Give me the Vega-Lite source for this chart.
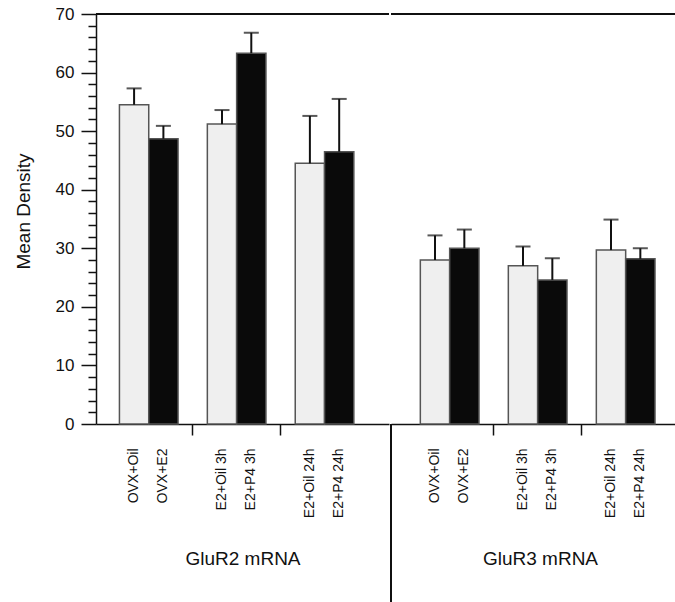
{
  "$schema": "https://vega.github.io/schema/vega-lite/v6.json",
  "padding": {"left": 14, "top": 5, "right": 0, "bottom": 0},
  "autosize": {"type": "pad"},
  "spacing": 0,
  "config": {
    "font": "Liberation Sans",
    "view": {"stroke": null},
    "axis": {"domainColor": "#111", "tickColor": "#111", "labelColor": "#111", "titleColor": "#111", "titleFontWeight": "normal", "domainWidth": 1.5, "tickWidth": 1.5, "grid": false, "labelFont": "Liberation Sans", "titleFont": "Liberation Sans"}
  },
  "data": {"values": [
    {"gene": "GluR2", "cond": "OVX+Oil", "treatment": "Oil", "mean": 54.5, "upper": 57.3},
    {"gene": "GluR2", "cond": "OVX+E2", "treatment": "Hormone", "mean": 48.7, "upper": 50.9},
    {"gene": "GluR2", "cond": "E2+Oil 3h", "treatment": "Oil", "mean": 51.2, "upper": 53.6},
    {"gene": "GluR2", "cond": "E2+P4 3h", "treatment": "Hormone", "mean": 63.3, "upper": 66.8},
    {"gene": "GluR2", "cond": "E2+Oil 24h", "treatment": "Oil", "mean": 44.5, "upper": 52.6},
    {"gene": "GluR2", "cond": "E2+P4 24h", "treatment": "Hormone", "mean": 46.5, "upper": 55.5},
    {"gene": "GluR3", "cond": "OVX+Oil", "treatment": "Oil", "mean": 28.0, "upper": 32.2},
    {"gene": "GluR3", "cond": "OVX+E2", "treatment": "Hormone", "mean": 30.0, "upper": 33.2},
    {"gene": "GluR3", "cond": "E2+Oil 3h", "treatment": "Oil", "mean": 27.0, "upper": 30.3},
    {"gene": "GluR3", "cond": "E2+P4 3h", "treatment": "Hormone", "mean": 24.6, "upper": 28.3},
    {"gene": "GluR3", "cond": "E2+Oil 24h", "treatment": "Oil", "mean": 29.7, "upper": 34.9},
    {"gene": "GluR3", "cond": "E2+P4 24h", "treatment": "Hormone", "mean": 28.2, "upper": 30.0}
  ]},
  "hconcat": [
    {
      "width": 293,
      "height": 410,
      "transform": [{"filter": "datum.gene === 'GluR2'"}],
      "layer": [
        {
          "mark": {"type": "bar", "stroke": "#555", "strokeWidth": 1.5},
          "encoding": {
            "x": {"field": "cond", "type": "nominal",
              "scale": {"domain": ["OVX+Oil", "OVX+E2", "gap1", "E2+Oil 3h", "E2+P4 3h", "gap2", "E2+Oil 24h", "E2+P4 24h"], "paddingInner": 0, "paddingOuter": 1.03, "align": 0.4},
              "axis": {"title": "GluR2 mRNA", "labelAngle": -90, "labelFontSize": 14, "labelPadding": 13, "tickSize": 11,
                "tickColor": {"condition": {"test": "indexof(datum.value,'gap') === 0", "value": "#111"}, "value": "transparent"},
                "labelExpr": "indexof(datum.value,'gap') === 0 ? '' : datum.value",
                "titleFontSize": 19, "titlePadding": 32, "labelOverlap": false}},
            "y": {"field": "mean", "type": "quantitative",
              "scale": {"domain": [0, 70], "nice": false, "zero": false},
              "axis": {"title": "Mean Density", "titleY": 197, "tickCount": 40, "values": [0,2,4,6,8,10,12,14,16,18,20,22,24,26,28,30,32,34,36,38,40,42,44,46,48,50,52,54,56,58,60,62,64,66,68,70],
                "tickSize": {"condition": {"test": "datum.value % 10 === 0", "value": 15}, "value": 8},
                "labelExpr": "datum.value % 10 === 0 ? datum.label : ''",
                "labelFontSize": 17, "labelPadding": 7, "titleFontSize": 19, "titlePadding": 22, "labelOverlap": false}},
            "color": {"field": "treatment", "type": "nominal", "scale": {"domain": ["Oil", "Hormone"], "range": ["#efefef", "#0a0a0a"]}, "legend": null}
          }
        },
        {
          "mark": {"type": "rule", "strokeWidth": 2, "color": "#111"},
          "encoding": {"x": {"field": "cond", "type": "nominal"}, "y": {"field": "mean", "type": "quantitative"}, "y2": {"field": "upper"}}
        },
        {
          "mark": {"type": "tick", "orient": "horizontal", "size": 15, "thickness": 2, "color": "#111"},
          "encoding": {"x": {"field": "cond", "type": "nominal"}, "y": {"field": "upper", "type": "quantitative"}}
        },
        {
          "mark": {"type": "rule", "strokeWidth": 1.5, "color": "#111"},
          "encoding": {"y": {"datum": 70}}
        }
      ]
    },
    {
      "width": 287,
      "height": 410,
      "transform": [{"filter": "datum.gene === 'GluR3'"}],
      "layer": [
        {
          "mark": {"type": "bar", "stroke": "#555", "strokeWidth": 1.5},
          "encoding": {
            "x": {"field": "cond", "type": "nominal",
              "scale": {"domain": ["div", "OVX+Oil", "OVX+E2", "gap1", "E2+Oil 3h", "E2+P4 3h", "gap2", "E2+Oil 24h", "E2+P4 24h"], "paddingInner": 0, "paddingOuter": 0.392, "align": 0},
              "axis": {"title": "GluR3 mRNA", "titleX": 149, "labelAngle": -90, "labelFontSize": 14, "labelPadding": 13, "tickSize": 11,
                "tickColor": {"condition": {"test": "indexof(datum.value,'gap') === 0", "value": "#111"}, "value": "transparent"},
                "labelExpr": "(indexof(datum.value,'gap') === 0 || datum.value === 'div') ? '' : datum.value",
                "titleFontSize": 19, "titlePadding": 32, "labelOverlap": false}},
            "y": {"field": "mean", "type": "quantitative", "scale": {"domain": [0, 70], "nice": false, "zero": false}, "axis": null},
            "color": {"field": "treatment", "type": "nominal", "scale": {"domain": ["Oil", "Hormone"], "range": ["#efefef", "#0a0a0a"]}, "legend": null}
          }
        },
        {
          "mark": {"type": "rule", "strokeWidth": 2, "color": "#111"},
          "encoding": {"x": {"field": "cond", "type": "nominal"}, "y": {"field": "mean", "type": "quantitative"}, "y2": {"field": "upper"}}
        },
        {
          "mark": {"type": "tick", "orient": "horizontal", "size": 15, "thickness": 2, "color": "#111"},
          "encoding": {"x": {"field": "cond", "type": "nominal"}, "y": {"field": "upper", "type": "quantitative"}}
        },
        {
          "mark": {"type": "rule", "strokeWidth": 1.5, "color": "#111"},
          "encoding": {"y": {"datum": 70}}
        },
        {
          "mark": {"type": "rule", "strokeWidth": 1.5, "color": "#111"},
          "encoding": {"x": {"datum": "div", "type": "nominal", "bandPosition": 0}, "y": {"datum": 0}, "y2": {"datum": -31}}
        }
      ]
    }
  ]
}
